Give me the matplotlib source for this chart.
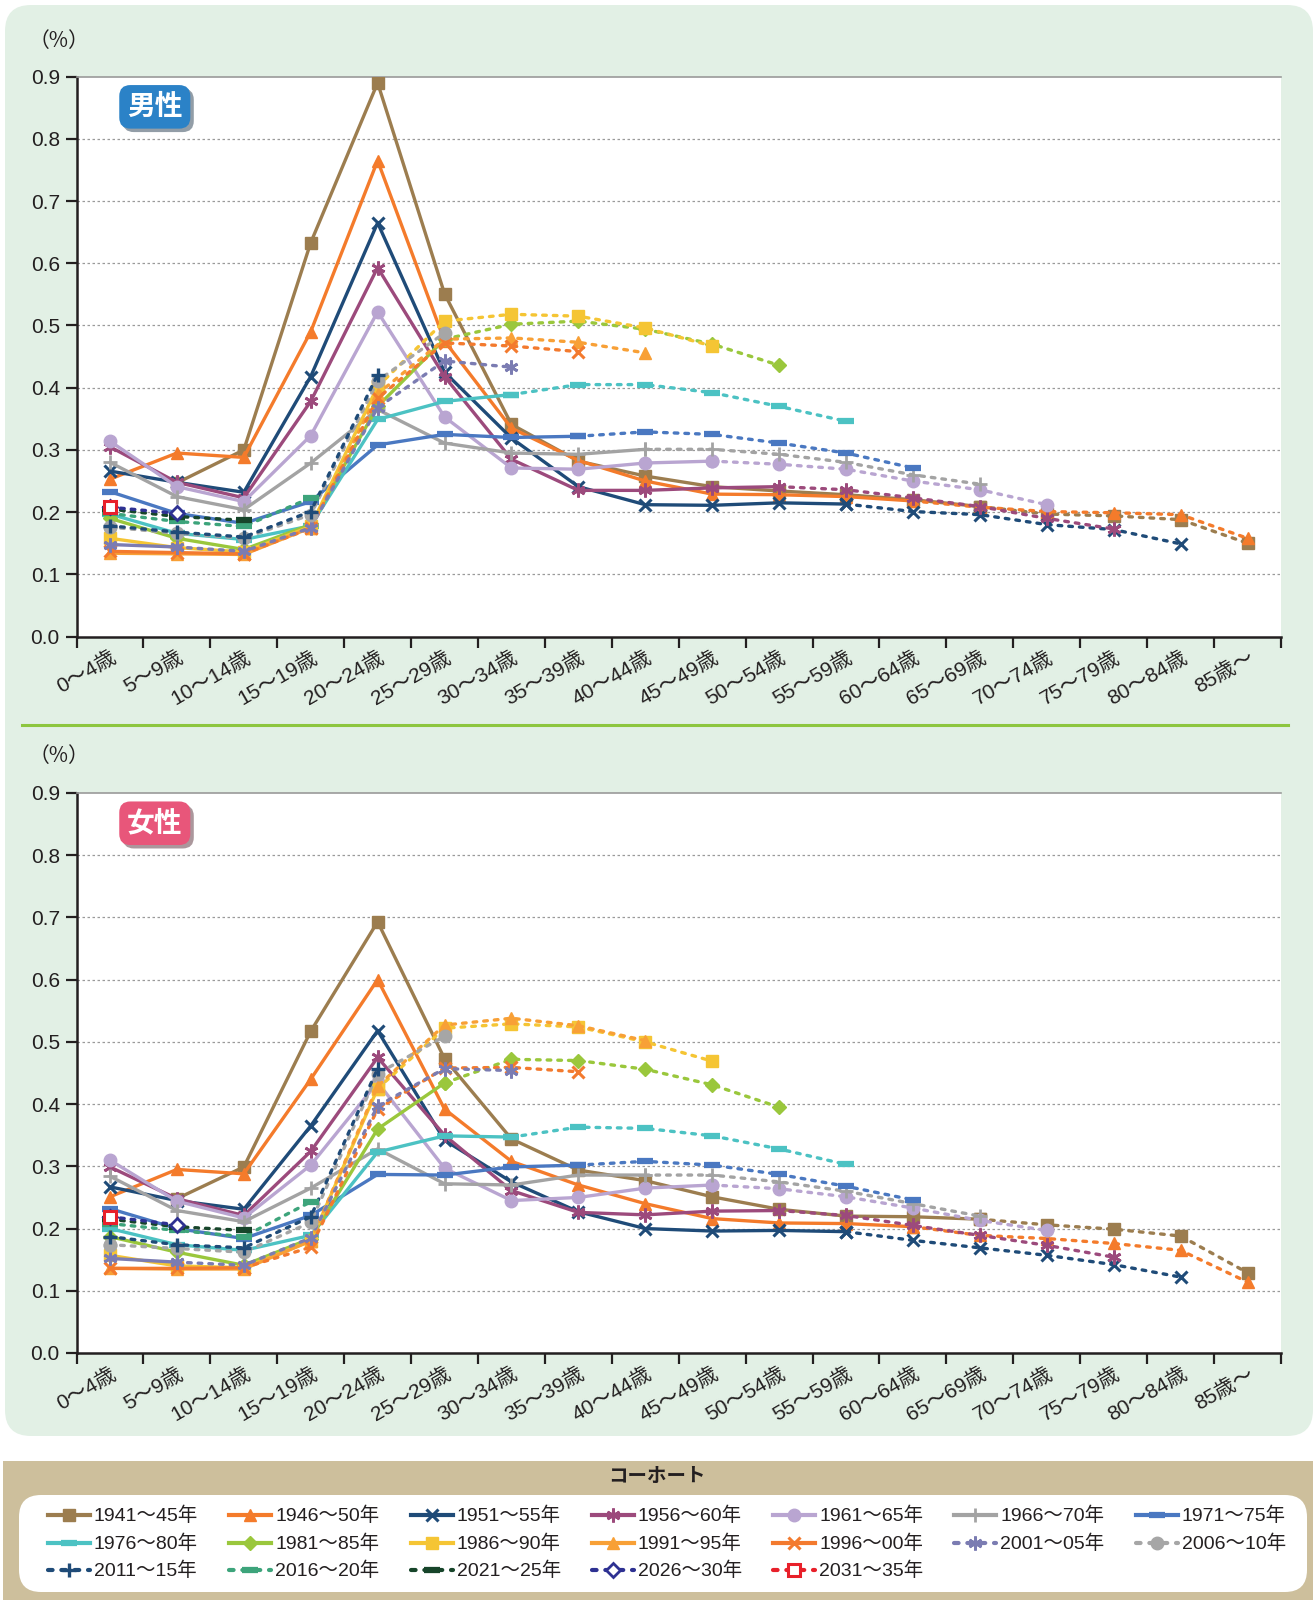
import matplotlib
matplotlib.use("Agg")
import matplotlib.pyplot as plt
import matplotlib.patheffects as pe
import matplotlib.transforms as mtransforms
from matplotlib.patches import FancyBboxPatch
import numpy as np

plt.rcParams['font.family'] = ['Noto Sans CJK JP', 'DejaVu Sans']
LATIN = ['Liberation Sans', 'Noto Sans CJK JP', 'DejaVu Sans']

ages = ["0～4歳", "5～9歳", "10～14歳", "15～19歳", "20～24歳", "25～29歳",
        "30～34歳", "35～39歳", "40～44歳", "45～49歳", "50～54歳", "55～59歳",
        "60～64歳", "65～69歳", "70～74歳", "75～79歳", "80～84歳", "85歳～"]

cohorts = ["1941～45年", "1946～50年", "1951～55年", "1956～60年", "1961～65年",
           "1966～70年", "1971～75年", "1976～80年", "1981～85年", "1986～90年",
           "1991～95年", "1996～00年", "2001～05年", "2006～10年", "2011～15年",
           "2016～20年", "2021～25年", "2026～30年", "2031～35年"]

# last observed age group (2010); later points are projections (dotted)
obs_end = [13, 12, 11, 10, 9, 8, 7, 6, 5, 4, 3, 2, 1, 0, -1, -1, -1, -1, -1]

N = None
male = [
    [N, 0.247, 0.300, 0.633, 0.890, 0.551, 0.341, 0.282, 0.258, 0.241, 0.234, 0.228, 0.220, 0.209, 0.197, 0.194, 0.188, 0.150],
    [0.253, 0.295, 0.288, 0.490, 0.765, 0.475, 0.335, 0.283, 0.250, 0.229, 0.228, 0.225, 0.218, 0.208, 0.201, 0.199, 0.196, 0.158],
    [0.266, 0.248, 0.232, 0.418, 0.665, 0.425, 0.319, 0.241, 0.212, 0.211, 0.215, 0.213, 0.201, 0.196, 0.180, 0.172, 0.149, N],
    [0.305, 0.248, 0.223, 0.378, 0.593, 0.418, 0.285, 0.235, 0.235, 0.239, 0.241, 0.236, 0.223, 0.209, 0.190, 0.173, N, N],
    [0.314, 0.241, 0.217, 0.323, 0.522, 0.353, 0.271, 0.269, 0.279, 0.282, 0.277, 0.269, 0.250, 0.236, 0.212, N, N, N],
    [0.280, 0.225, 0.204, 0.279, 0.365, 0.311, 0.295, 0.293, 0.301, 0.301, 0.293, 0.280, 0.260, 0.245, N, N, N, N],
    [0.233, 0.198, 0.182, 0.217, 0.308, 0.325, 0.320, 0.322, 0.329, 0.325, 0.311, 0.295, 0.271, N, N, N, N, N],
    [0.197, 0.166, 0.156, 0.178, 0.349, 0.378, 0.389, 0.405, 0.405, 0.392, 0.370, 0.346, N, N, N, N, N, N],
    [0.190, 0.158, 0.140, 0.180, 0.370, 0.478, 0.502, 0.507, 0.494, 0.470, 0.436, N, N, N, N, N, N, N],
    [0.158, 0.143, 0.136, 0.177, 0.402, 0.507, 0.518, 0.515, 0.496, 0.467, N, N, N, N, N, N, N, N],
    [0.134, 0.133, 0.132, 0.175, 0.390, 0.478, 0.480, 0.473, 0.456, N, N, N, N, N, N, N, N, N],
    [0.137, 0.135, 0.133, 0.174, 0.383, 0.472, 0.467, 0.458, N, N, N, N, N, N, N, N, N, N],
    [0.148, 0.144, 0.137, 0.175, 0.368, 0.443, 0.433, N, N, N, N, N, N, N, N, N, N, N],
    [0.176, 0.166, 0.158, 0.196, 0.411, 0.488, N, N, N, N, N, N, N, N, N, N, N, N],
    [0.178, 0.168, 0.160, 0.201, 0.421, N, N, N, N, N, N, N, N, N, N, N, N, N],
    [0.198, 0.185, 0.177, 0.223, N, N, N, N, N, N, N, N, N, N, N, N, N, N],
    [0.205, 0.193, 0.187, N, N, N, N, N, N, N, N, N, N, N, N, N, N, N],
    [0.208, 0.198, N, N, N, N, N, N, N, N, N, N, N, N, N, N, N, N],
    [0.208, N, N, N, N, N, N, N, N, N, N, N, N, N, N, N, N, N],
]

female = [
    [N, 0.248, 0.299, 0.517, 0.693, 0.473, 0.344, 0.294, 0.277, 0.251, 0.231, 0.220, 0.219, 0.215, 0.206, 0.199, 0.188, 0.129],
    [0.251, 0.295, 0.288, 0.440, 0.600, 0.392, 0.308, 0.270, 0.240, 0.216, 0.209, 0.208, 0.203, 0.189, 0.184, 0.176, 0.165, 0.114],
    [0.267, 0.245, 0.231, 0.365, 0.518, 0.342, 0.275, 0.227, 0.200, 0.196, 0.197, 0.195, 0.181, 0.169, 0.157, 0.142, 0.122, N],
    [0.299, 0.248, 0.221, 0.324, 0.475, 0.350, 0.261, 0.226, 0.222, 0.228, 0.229, 0.221, 0.205, 0.189, 0.173, 0.154, N, N],
    [0.310, 0.244, 0.217, 0.302, 0.435, 0.297, 0.245, 0.250, 0.265, 0.270, 0.264, 0.251, 0.233, 0.213, 0.197, N, N, N],
    [0.284, 0.229, 0.211, 0.265, 0.328, 0.272, 0.270, 0.286, 0.286, 0.286, 0.275, 0.260, 0.240, 0.220, N, N, N, N],
    [0.232, 0.200, 0.184, 0.221, 0.287, 0.286, 0.299, 0.302, 0.308, 0.302, 0.287, 0.268, 0.246, N, N, N, N, N],
    [0.200, 0.174, 0.165, 0.189, 0.323, 0.349, 0.347, 0.363, 0.361, 0.349, 0.328, 0.303, N, N, N, N, N, N],
    [0.187, 0.162, 0.141, 0.184, 0.360, 0.434, 0.472, 0.470, 0.456, 0.431, 0.395, N, N, N, N, N, N, N],
    [0.157, 0.140, 0.137, 0.180, 0.425, 0.522, 0.529, 0.524, 0.500, 0.469, N, N, N, N, N, N, N, N],
    [0.136, 0.135, 0.135, 0.180, 0.429, 0.527, 0.538, 0.526, 0.502, N, N, N, N, N, N, N, N, N],
    [0.136, 0.136, 0.137, 0.170, 0.392, 0.458, 0.459, 0.452, N, N, N, N, N, N, N, N, N, N],
    [0.152, 0.146, 0.141, 0.185, 0.397, 0.457, 0.454, N, N, N, N, N, N, N, N, N, N, N],
    [0.174, 0.168, 0.162, 0.210, 0.449, 0.509, N, N, N, N, N, N, N, N, N, N, N, N],
    [0.187, 0.174, 0.169, 0.219, 0.457, N, N, N, N, N, N, N, N, N, N, N, N, N],
    [0.208, 0.197, 0.187, 0.243, N, N, N, N, N, N, N, N, N, N, N, N, N, N],
    [0.215, 0.203, 0.197, N, N, N, N, N, N, N, N, N, N, N, N, N, N, N],
    [0.219, 0.206, N, N, N, N, N, N, N, N, N, N, N, N, N, N, N, N],
    [0.219, N, N, N, N, N, N, N, N, N, N, N, N, N, N, N, N, N],
]

colors = ['#9C7D4F', '#F47B2B', '#1F4B78', '#9C4A7C', '#B9A5D1', '#A3A3A3', '#4A78C1',
          '#4CC2C3', '#9AC73C', '#F5C534', '#F8A036', '#F37A2E', '#7B7CB2', '#A6A6A6',
          '#1F4B78', '#3DA47B', '#17452A', '#2E3192', '#E8202A']
ASTER = (6, 2, 0)
markers = ['s', '^', 'x', ASTER, 'o', '+', '_', '_', 'D', 's', '^', 'x', ASTER, 'o',
           '+', '_', '_', 'D', 's']
msizes = [8, 9, 8, 10, 9, 10, 11, 11, 7, 9, 9, 8, 10, 9, 10, 11, 11, 7, 8]
mews = [1, 1, 2.2, 2, 1, 2, 4.5, 4.5, 1, 1, 1, 2.2, 2, 1, 2.4, 4.5, 4.5, 2, 2.2]
mfaces = [c for c in colors]
mfaces[17] = 'white'
mfaces[18] = 'white'

DOT = (0, (1.1, 2.1))
LW = 2.4

fig = plt.figure(figsize=(13.15, 16), dpi=100)

# background panels in pixel coordinates
bg = fig.add_axes([0, 0, 1, 1])
bg.set_zorder(-1)
bg.set_xlim(0, 1315)
bg.set_ylim(1600, 0)
bg.axis('off')
bg.add_patch(FancyBboxPatch((5, 5), 1308, 1431, boxstyle="round,pad=0,rounding_size=26",
                            fc='#E2F0E5', ec='none'))
bg.plot([22, 1288], [725, 725], color='#8DC63F', lw=2.2)
bg.add_patch(FancyBboxPatch((3, 1461), 1310, 139, boxstyle="square,pad=0",
                            fc='#CDBF9C', ec='none'))
bg.add_patch(FancyBboxPatch((19, 1495), 1288, 97, boxstyle="round,pad=0,rounding_size=22",
                            fc='white', ec='none'))
bg.text(657, 1476, "コーホート", ha='center', va='center', fontsize=14,
        fontweight='bold', color='#231F20')

# legend, row by row
for k in range(len(cohorts)):
    row, col = divmod(k, 7)
    x0 = 48 + col * 181.3
    y = 1515 + row * 27.5
    ls = '-' if k < 12 else DOT
    bg.plot([x0, x0 + 42], [y, y], color=colors[k], lw=3, ls=ls, dash_capstyle='round')
    bg.plot([x0 + 21], [y], marker=markers[k], color=colors[k], markersize=msizes[k],
            markeredgewidth=mews[k], markerfacecolor=mfaces[k], ls='none')
    bg.text(x0 + 46, y + 1, cohorts[k], va='center', ha='left', fontsize=14,
            color='#231F20', family=LATIN)


def draw_panel(rect, data, badge, badge_color, pct_y):
    ax = fig.add_axes(rect)
    ax.set_facecolor('white')
    for k, vals in enumerate(data):
        xs = [i for i, v in enumerate(vals) if v is not None]
        style = dict(color=colors[k], marker=markers[k], markersize=msizes[k],
                     markeredgewidth=mews[k], markerfacecolor=mfaces[k],
                     markeredgecolor=colors[k], lw=LW, zorder=3 + k * 0.01)
        oe = obs_end[k]
        sx = [x for x in xs if x <= oe]
        dx = [x for x in xs if x >= oe]
        if sx:
            ax.plot(sx, [vals[i] for i in sx], solid_capstyle='round',
                    solid_joinstyle='round', **style)
        if len(dx) > 1 or not sx:
            ax.plot(dx, [vals[i] for i in dx], linestyle=DOT, dash_capstyle='round', **style)

    ax.set_xlim(-0.5, 17.5)
    ax.set_ylim(0, 0.9)
    yt = np.round(np.arange(0, 0.91, 0.1), 1)
    ax.set_yticks(yt)
    ax.set_yticklabels([f"{v:.1f}" for v in yt], fontsize=15, color='#231F20', family=LATIN)
    for v in yt[1:-1]:
        ax.axhline(v, color='#9A9A9A', lw=0.9, ls=(0, (2, 2)), zorder=1)

    ax.set_xticks(range(len(ages)))
    ax.set_xticklabels(ages, rotation=30, ha='right', va='top', rotation_mode='anchor',
                       fontsize=15, color='#231F20', family=LATIN)
    off = mtransforms.ScaledTranslation(0.17, 0, fig.dpi_scale_trans)
    for lab in ax.get_xticklabels():
        lab.set_transform(lab.get_transform() + off)
    ax.tick_params(axis='x', which='major', length=0, pad=8)
    ax.set_xticks(np.arange(-0.5, 18, 1), minor=True)
    ax.tick_params(axis='x', which='minor', length=8, width=1.6, direction='out', color='#231F20')
    ax.tick_params(axis='y', length=8, width=1.6, direction='out', color='#231F20', pad=4)

    ax.spines['right'].set_visible(False)
    ax.spines['top'].set_color('#9A9A9A')
    ax.spines['top'].set_linewidth(1.2)
    for s in ['left', 'bottom']:
        ax.spines[s].set_color('#231F20')
        ax.spines[s].set_linewidth(1.8)

    t = ax.text(0.065, 0.946, badge, transform=ax.transAxes, ha='center', va='center',
                fontsize=20, fontweight='bold', color='white', zorder=10,
                bbox=dict(boxstyle='round,pad=0.28,rounding_size=0.4', fc=badge_color, ec='none'))
    t.get_bbox_patch().set_path_effects([pe.SimplePatchShadow(offset=(2.5, -2.5), alpha=0.45),
                                         pe.Normal()])

    fig.text(59 / 1315, pct_y, "（%）", ha='center', va='center', fontsize=15, color='#231F20')
    return ax


draw_panel([76.5 / 1315, 1 - 636.6 / 1600, (1281 - 76.5) / 1315, 560 / 1600],
           male, "男性", '#2B82C7', 1 - 41 / 1600)
draw_panel([76.5 / 1315, 1 - 1353 / 1600, (1281 - 76.5) / 1315, 560 / 1600],
           female, "女性", '#E8567A', 1 - 756 / 1600)

fig.savefig("out.png", dpi=100)
